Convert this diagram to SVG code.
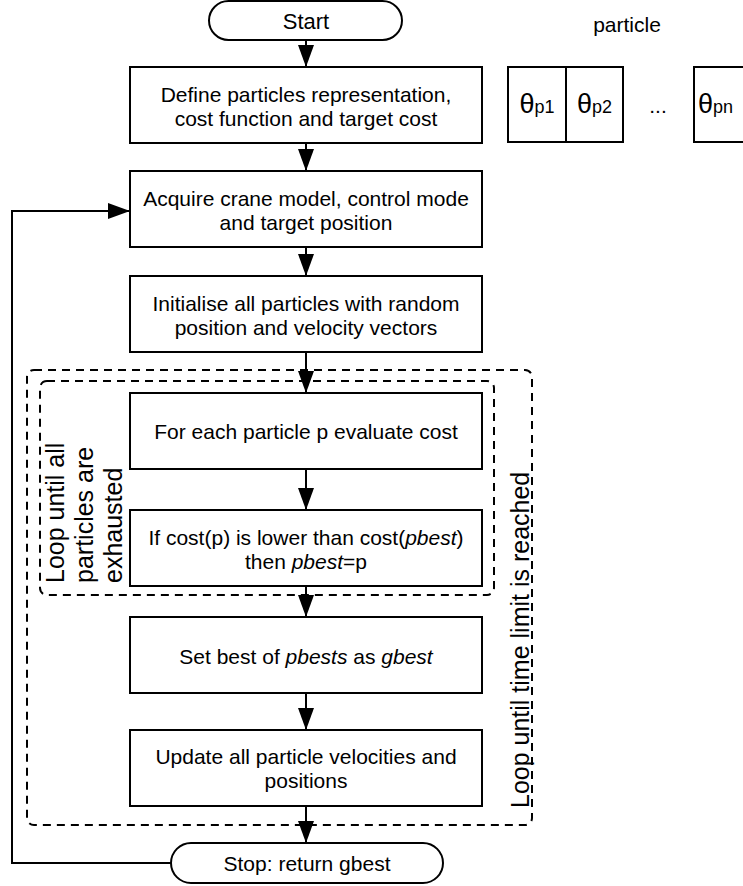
<svg xmlns="http://www.w3.org/2000/svg" width="743" height="886" viewBox="0 0 743 886">
<style>
text{font-family:"Liberation Sans",Arial,Helvetica,sans-serif;fill:#000;}
.t{font-size:21px;text-anchor:middle;}
.big{font-size:25px;}
.box{fill:#fff;stroke:#000;stroke-width:2;}
.dash{fill:none;stroke:#000;stroke-width:2;stroke-dasharray:8 6;}
.con{fill:none;stroke:#000;stroke-width:2;}
.i{font-style:italic;}
</style>
<defs>
<marker id="ah" markerUnits="userSpaceOnUse" markerWidth="22" markerHeight="16" refX="22" refY="8" orient="auto">
<path d="M0,0 L22,8 L0,16 z" fill="#000"/>
</marker>
</defs>
<rect width="743" height="886" fill="#fff"/>

<g id="loops">
<rect class="dash" x="27" y="370" width="505" height="455" rx="7"/>
<rect class="dash" x="40" y="381" width="454" height="214" rx="7"/>
<text class="big" transform="translate(64,583) rotate(-90)">Loop until all</text>
<text class="big" transform="translate(93,583) rotate(-90)">particles are</text>
<text class="big" transform="translate(122,583) rotate(-90)">exhausted</text>
<text class="big" transform="translate(529,808) rotate(-90)">Loop until time limit is reached</text>
</g>

<g id="connectors">
<line class="con" x1="306" y1="40" x2="306" y2="67" marker-end="url(#ah)"/>
<line class="con" x1="306" y1="143" x2="306" y2="171" marker-end="url(#ah)"/>
<line class="con" x1="306" y1="247" x2="306" y2="276" marker-end="url(#ah)"/>
<line class="con" x1="306" y1="352" x2="306" y2="393" marker-end="url(#ah)"/>
<line class="con" x1="306" y1="469" x2="306" y2="510" marker-end="url(#ah)"/>
<line class="con" x1="306" y1="586" x2="306" y2="617" marker-end="url(#ah)"/>
<line class="con" x1="306" y1="693" x2="306" y2="730" marker-end="url(#ah)"/>
<line class="con" x1="306" y1="806" x2="306" y2="843" marker-end="url(#ah)"/>
<polyline class="con" points="171,863 12,863 12,211 130,211" marker-end="url(#ah)"/>
</g>

<g id="start">
<rect class="box" x="209" y="1" width="193" height="39" rx="19.5"/>
<text class="t" x="306" y="29" style="font-size:22px">Start</text>
</g>

<g id="define">
<rect class="box" x="130" y="67" width="352" height="76"/>
<text class="t" x="306" y="102">Define particles representation,</text>
<text class="t" x="306" y="126">cost function and target cost</text>
</g>

<g id="particle">
<text x="627" y="32" style="font-size:21px;text-anchor:middle">particle</text>
<rect class="box" x="508" y="67" width="58" height="75"/>
<rect class="box" x="566" y="67" width="57" height="75"/>
<rect class="box" x="694" y="67" width="58" height="75"/>
<text x="537" y="113" style="text-anchor:middle"><tspan style="font-size:27px">θ</tspan><tspan style="font-size:18px">p1</tspan></text>
<text x="594.5" y="113" style="text-anchor:middle"><tspan style="font-size:27px">θ</tspan><tspan style="font-size:18px">p2</tspan></text>
<text x="658" y="113" style="font-size:21px;text-anchor:middle">...</text>
<text x="698" y="113"><tspan style="font-size:27px">θ</tspan><tspan style="font-size:18px">pn</tspan></text>
</g>

<g id="acquire">
<rect class="box" x="130" y="171" width="352" height="76"/>
<text class="t" x="306" y="206">Acquire crane model, control mode</text>
<text class="t" x="306" y="230">and target position</text>
</g>

<g id="init">
<rect class="box" x="130" y="276" width="352" height="76"/>
<text class="t" x="306" y="311">Initialise all particles with random</text>
<text class="t" x="306" y="335">position and velocity vectors</text>
</g>

<g id="evaluate">
<rect class="box" x="130" y="393" width="352" height="76"/>
<text class="t" x="306" y="439">For each particle p evaluate cost</text>
</g>

<g id="pbest">
<rect class="box" x="130" y="510" width="352" height="76"/>
<text class="t" x="306" y="545">If cost(p) is lower than cost(<tspan class="i">pbest</tspan>)</text>
<text class="t" x="306" y="569">then <tspan class="i">pbest</tspan>=p</text>
</g>

<g id="gbest">
<rect class="box" x="130" y="617" width="352" height="76"/>
<text class="t" x="306" y="664">Set best of <tspan class="i">pbests</tspan> as <tspan class="i">gbest</tspan></text>
</g>

<g id="update">
<rect class="box" x="130" y="730" width="352" height="76"/>
<text class="t" x="306" y="764">Update all particle velocities and</text>
<text class="t" x="306" y="788">positions</text>
</g>

<g id="stop">
<rect class="box" x="171" y="843" width="272" height="40" rx="20"/>
<text class="t" x="307" y="871">Stop: return gbest</text>
</g>
</svg>
